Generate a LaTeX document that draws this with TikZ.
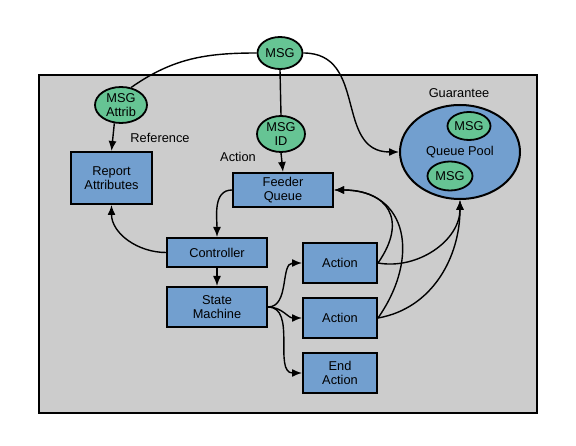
\documentclass[tikz,border=0pt]{standalone}
\usepackage{fontspec}
\setmainfont{Liberation Sans}
\usetikzlibrary{shapes.geometric,arrows.meta}
\definecolor{boxblue}{RGB}{114,159,207}
\definecolor{msggreen}{RGB}{102,196,148}
\definecolor{framegray}{RGB}{204,204,204}
\tikzset{
	msgnode/.style={ellipse, draw, line width=1.8pt, fill=msggreen, inner sep=0pt, align=center},
	boxnode/.style={rectangle, draw, line width=2pt, fill=boxblue, inner sep=0pt, align=center},
	tag/.style={inner sep=0pt},
	flow/.style={line width=1.4pt, -{Latex[length=10pt,width=8pt]}},
	link/.style={line width=1.4pt},
}

\begin{document}
\begin{tikzpicture}[x=1pt,y=1pt,font=\fontsize{12.8}{14}\selectfont]
	\useasboundingbox (0,0) rectangle (576,445);
	% frame
	\draw[line width=1.8pt, fill=framegray] (39,370) rectangle (537,32);
	% message nodes
	\node[msgnode, minimum width=45, minimum height=32] (msg) at (280,392) {MSG};
	\node[msgnode, minimum width=52, minimum height=36] (attrib) at (121,340) {MSG\\Attrib};
	\node[msgnode, minimum width=48, minimum height=36] (msgid) at (281,311) {MSG\\ID};
	% boxes
	\node[boxnode, minimum width=81, minimum height=52] (report) at (111.5,267) {Report\\Attributes};
	\node[boxnode, minimum width=100, minimum height=34] (feeder) at (283,255) {Feeder\\Queue};
	\node[boxnode, minimum width=100, minimum height=29] (ctrl) at (217,192.5) {Controller};
	\node[boxnode, minimum width=100, minimum height=40] (sm) at (217,138) {State\\Machine};
	\node[boxnode, minimum width=74, minimum height=40] (act1) at (340,182) {Action};
	\node[boxnode, minimum width=74, minimum height=40] (act2) at (340,127) {Action};
	\node[boxnode, minimum width=74, minimum height=40] (endact) at (340,72) {End\\Action};
	% queue pool
	\node[ellipse, draw, line width=2pt, fill=boxblue, minimum width=120, minimum height=94, inner sep=0pt] (pool) at (460,293) {Queue Pool};
	\node[msgnode, minimum width=43, minimum height=28] (poolmsga) at (469,319) {MSG};
	\node[msgnode, minimum width=45, minimum height=29] (poolmsgb) at (450,269) {MSG};
	% labels
	\node[tag] (lblref) at (160,307) {Reference};
	\node[tag] (lblact) at (238,288) {Action};
	\node[tag] (lblguar) at (459,352) {Guarantee};
	% connectors
	\draw[link] (msg.west) to[out=180,in=35] (attrib.60);
	\draw[link] (msg.south) -- (msgid.north);
	\draw[flow] (msg.east) to[out=0,in=180,looseness=1.2] (pool.west);
	\draw[flow] (attrib.250) -- (report.north);
	\draw[flow] (msgid.south) -- (feeder.north);
	\draw[flow] (feeder.west) to[out=180,in=90] (ctrl.north);
	\draw[flow] (ctrl.west) to[out=180,in=270] (report.south);
	\draw[flow] (ctrl.south) -- (sm.north);
	\draw[flow] (sm.east) to[out=0,in=180] (act1.west);
	\draw[flow] (sm.east) to[out=0,in=180] (act2.west);
	\draw[flow] (sm.east) to[out=0,in=180] (endact.west);
	\draw[flow] (act1.east) to[out=55,in=0,looseness=1.6] (feeder.east);
	\draw[flow] (act2.east) to[out=55,in=0,looseness=1.4] (feeder.east);
	\draw[flow] (act1.east) to[out=-10,in=270] (pool.south);
	\draw[flow] (act2.east) to[out=10,in=270] (pool.south);
\end{tikzpicture}
\end{document}
